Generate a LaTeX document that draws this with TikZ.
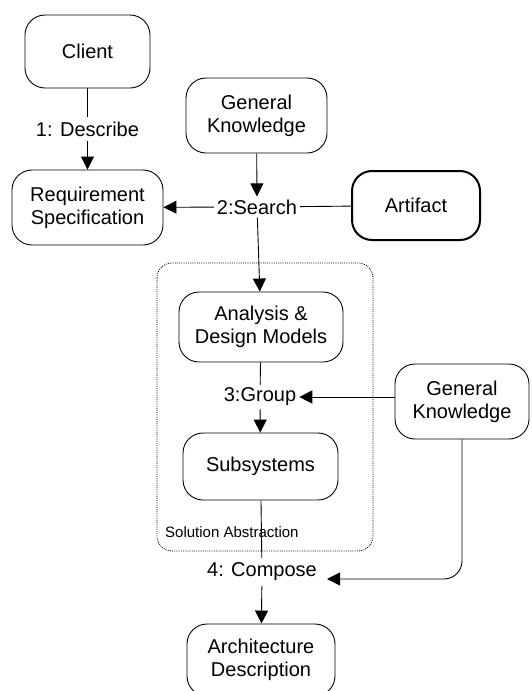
\documentclass[tikz,border=0pt]{standalone}
\usepackage{fontspec}
\setmainfont{Liberation Sans}
\usetikzlibrary{arrows.meta,positioning}
\begin{document}
\begin{tikzpicture}[x=1pt,y=-1pt,
  box/.style={draw,rounded corners=20pt,align=center,font=\fontsize{20}{23}\selectfont,inner sep=0pt,line width=0.9pt},
  lbl/.style={font=\fontsize{20}{23}\selectfont,inner sep=4pt},
  arr/.style={-{Triangle[length=13pt,width=13pt]},line width=0.9pt},
  ln/.style={line width=0.9pt}]
\useasboundingbox (0,0) rectangle (531,691);
\draw[dash pattern=on 1pt off 1.2pt,line width=0.8pt,rounded corners=15pt] (157,263) rectangle (373,551);
\node[anchor=west,font=\fontsize{15}{17}\selectfont,inner sep=0pt] (sa) at (165,532) {Solution Abstraction};
\node[box,minimum width=125pt,minimum height=73pt] (client) at (87.5,51.5) {Client};
\node[box,minimum width=141pt,minimum height=75pt] (gk1) at (256.5,115.5) {General\\Knowledge};
\node[box,minimum width=151pt,minimum height=75pt] (req) at (87.5,207.5) {Requirement\\Specification};
\node[box,minimum width=128pt,minimum height=69pt,line width=2pt] (artifact) at (416,205.5) {Artifact};
\node[box,minimum width=164pt,minimum height=70pt] (adm) at (261,327) {Analysis \&\\Design Models};
\node[box,minimum width=134pt,minimum height=75pt] (gk2) at (462,401.5) {General\\Knowledge};
\node[box,minimum width=155pt,minimum height=67pt] (sub) at (260.5,466.5) {Subsystems};
\node[box,minimum width=148pt,minimum height=72pt] (arch) at (261,660) {Architecture\\Description};
\node[lbl] (describe) at (87.5,129) {1: Describe};
\node[lbl,inner sep=3pt] (search) at (257,207) {2:Search};
\node[lbl,inner sep=3pt] (group) at (260,397) {3:Group};
\node[lbl,inner sep=5pt] (compose) at (262,572) {4: Compose};
\coordinate (cin) at (327,579);
\draw[ln] (client) -- (describe);
\draw[arr] (describe) -- (req);
\draw[arr] (gk1) -- (search);
\draw[arr] (search) -- (req);
\draw[ln] (search) -- (artifact);
\draw[arr] (search) -- (adm);
\draw[ln] (adm) -- (group);
\draw[arr] (group) -- (sub);
\draw[arr] (gk2.west |- group.east) -- (group.east);
\draw[ln] (sub) -- (compose);
\draw[arr,rounded corners=18pt] (gk2.south) |- (cin);
\draw[arr] (compose) -- (arch);
\end{tikzpicture}
\end{document}
